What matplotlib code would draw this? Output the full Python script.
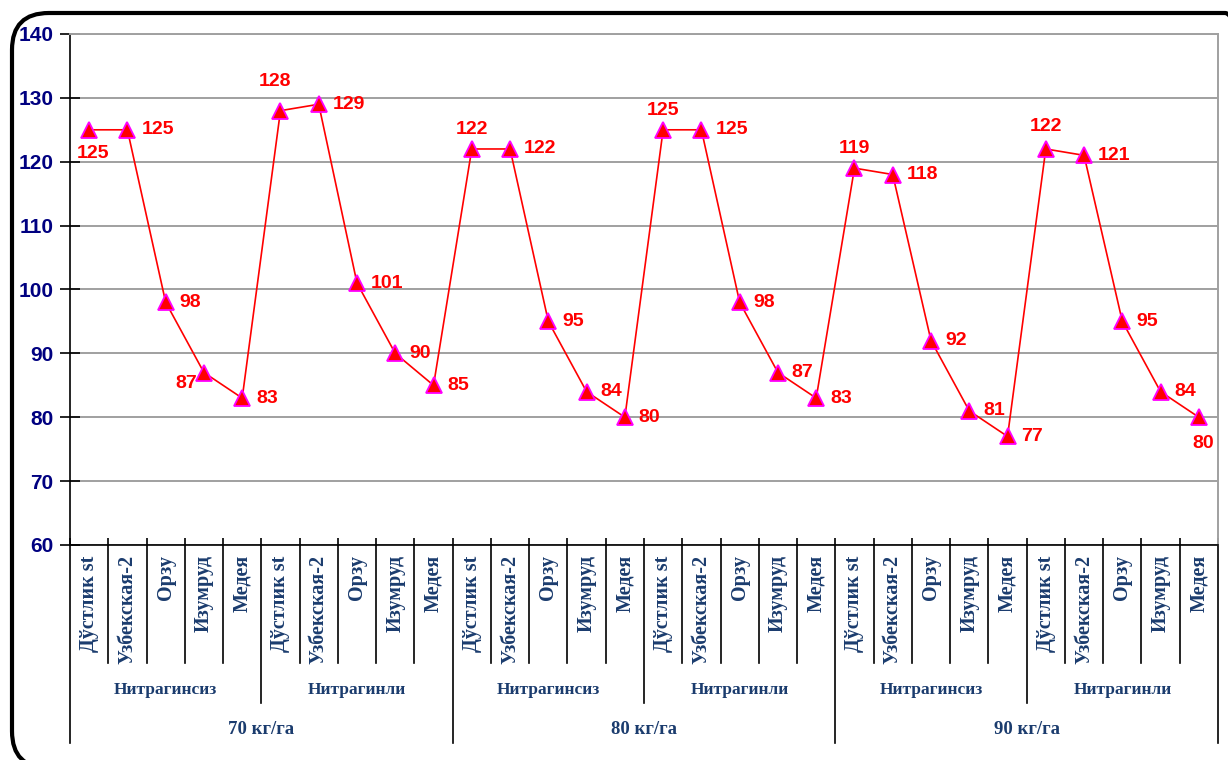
import matplotlib.pyplot as plt
from matplotlib.patches import FancyBboxPatch
import matplotlib.transforms as mtransforms

# yield by variety, inoculation treatment and nitrogen dose
varieties = ["Дўстлик st", "Узбекская-2", "Орзу", "Изумруд", "Медея"]
treatments = ["Нитрагинсиз", "Нитрагинли"]
doses = ["70 кг/га", "80 кг/га", "90 кг/га"]
values = [125, 125, 98, 87, 83, 128, 129, 101, 90, 85,
          122, 122, 95, 84, 80, 125, 125, 98, 87, 83,
          119, 118, 92, 81, 77, 122, 121, 95, 84, 80]

# where each value label sits relative to its marker (points)
label_offsets = {0: (3, -17), 3: (-13, -8), 5: (-4, 21), 10: (0, 14),
                 15: (0, 14), 20: (0, 14), 25: (0, 16), 29: (3, -19)}

navy = "#000080"
cat_blue = "#1b3c6e"

fig = plt.figure(figsize=(12.28, 7.6), dpi=100)

# rounded outer frame
frame = FancyBboxPatch((12 / 1228, 1 - 768 / 760), 1250 / 1228, 755 / 760,
                       boxstyle="round,pad=0,rounding_size=0.03",
                       transform=fig.transFigure, facecolor="none",
                       edgecolor="black", linewidth=3, clip_on=False,
                       mutation_aspect=1228 / 760)
fig.patches.append(frame)

ax = fig.add_axes([70 / 1228, 1 - 545 / 760, 1148 / 1228, 511 / 760])

n = len(values)
x = list(range(n))
ax.plot(x, values, color="red", linewidth=1.2, marker="^", markersize=11.5,
        markerfacecolor="red", markeredgecolor="#ff00ff", markeredgewidth=1.3,
        zorder=3)

for i, v in enumerate(values):
    dx, dy = label_offsets.get(i, (10, 0))
    ha = "left" if i not in label_offsets else "center"
    ax.annotate(str(v), (i, v), xytext=(dx, dy), textcoords="offset points",
                ha=ha, va="center", color="red", fontsize=14,
                fontweight="bold", family="Liberation Sans")

ax.set_xlim(-0.5, n - 0.5)
ax.set_ylim(60, 140)
ax.set_yticks(range(60, 141, 10))
ax.yaxis.grid(True, color="#a0a0a0", linewidth=1.4)
ax.set_axisbelow(True)
ax.tick_params(axis="y", direction="inout", length=14, width=1.2,
               labelsize=15, labelcolor=navy, pad=5)
for lab in ax.get_yticklabels():
    lab.set_fontweight("bold")
    lab.set_family("Liberation Sans")

ax.spines["left"].set_linewidth(1.2)
ax.spines["bottom"].set_linewidth(1.2)
ax.spines["top"].set_color("#a0a0a0")
ax.spines["right"].set_color("#a0a0a0")
ax.spines["top"].set_linewidth(1.4)
ax.spines["right"].set_linewidth(1.4)

# multi-level category axis drawn below the plot
ax.set_xticks([i - 0.5 for i in range(n + 1)])
ax.set_xticklabels([])
ax.tick_params(axis="x", direction="in", length=5, width=1.2)

trans = mtransforms.blended_transform_factory(ax.transData, ax.transAxes)
serif = "Liberation Serif"
nv, nt = len(varieties), len(treatments)

for i in range(n):
    ax.text(i, -0.02, varieties[i % nv], transform=trans, rotation=90,
            ha="center", va="top", fontsize=14.5, fontweight="bold",
            color=cat_blue, family=serif)

for b in range(n + 1):
    if b % (nv * nt) == 0:
        depth = -0.387
    elif b % nv == 0:
        depth = -0.309
    else:
        depth = -0.231
    ax.plot([b - 0.5, b - 0.5], [0, depth], transform=trans, color="black",
            linewidth=1.2, clip_on=False)

for g in range(n // nv):
    center = g * nv + (nv - 1) / 2
    ax.text(center, -0.284, treatments[g % nt], transform=trans,
            ha="center", va="center", fontsize=12.5, fontweight="bold",
            color=cat_blue, family=serif)

for d, dose in enumerate(doses):
    center = d * nv * nt + (nv * nt - 1) / 2
    ax.text(center, -0.362, dose, transform=trans, ha="center",
            va="center", fontsize=13.5, fontweight="bold",
            color=cat_blue, family=serif)

fig.savefig("out.png", dpi=100)
